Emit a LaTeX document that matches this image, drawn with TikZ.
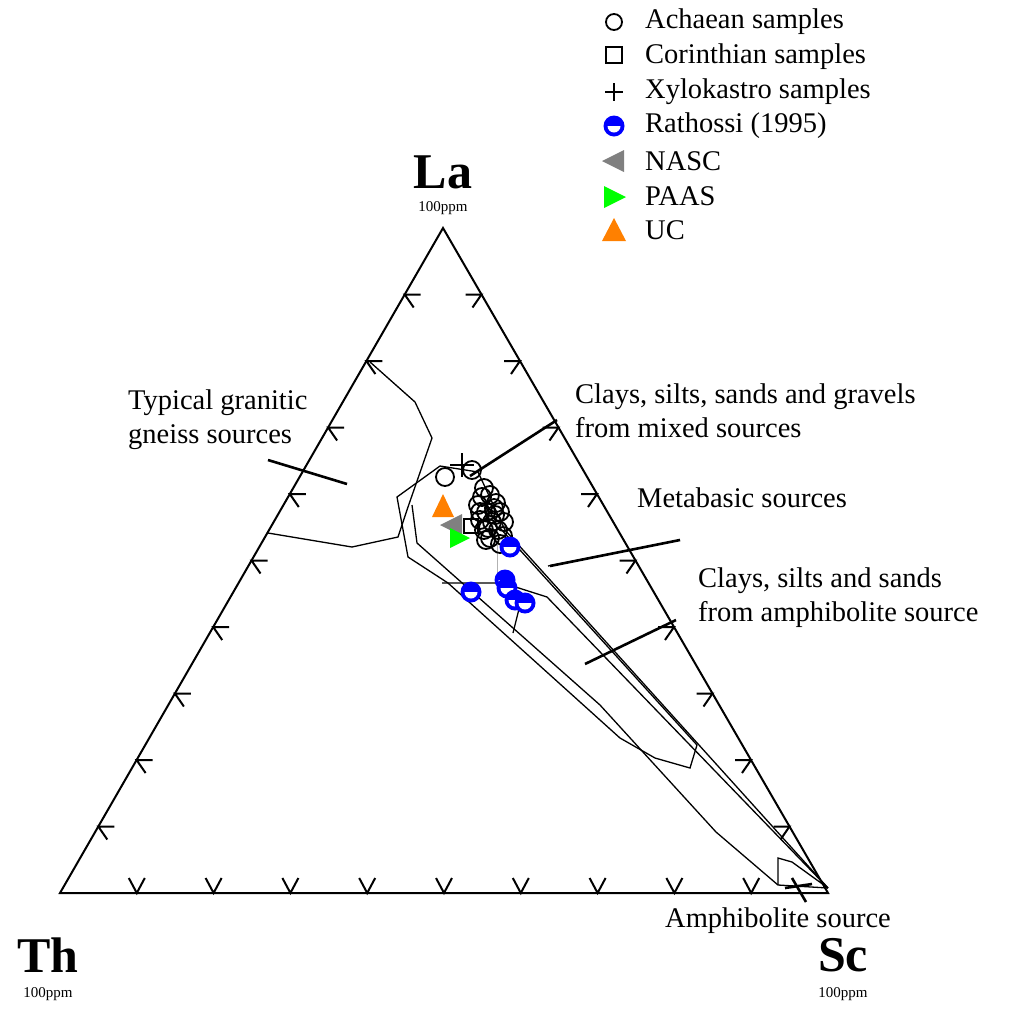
\documentclass[tikz,border=0pt]{standalone}
\usepackage{fontspec}
\setmainfont{Liberation Serif}
\usetikzlibrary{calc}
\tikzset{
  side/.style={line width=2pt},
  field/.style={line width=1.3pt},
  pointer/.style={line width=2.6pt},
  lbl/.style={font=\fontsize{28.5}{34}\selectfont, align=left, anchor=west, inner sep=0pt},
  apex/.style={font=\fontsize{50}{52}\selectfont\bfseries, inner sep=0pt},
  ppm/.style={font=\fontsize{15}{17}\selectfont, inner sep=0pt},
  ach/.style={line width=1.8pt},
}
\newcommand{\rathmark}[2]{%
  \fill[blue] (#1,#2) circle (10.5);
  \fill[white] (#1-6.5,#2) arc[start angle=180, end angle=0, radius=6.5] -- cycle;
}
\begin{document}
\begin{tikzpicture}[x=1pt, y=-1pt]
    \useasboundingbox (0,0) rectangle (1022,1010);
    % Triangle corners
    \coordinate (Th) at (60,893);
    \coordinate (Sc) at (828,893);
    \coordinate (La) at (443,228);
    \draw[side] (Th) -- (Sc) -- (La) -- cycle;

    % Tick marks
    \foreach \t in {1,...,9} {
        \draw[side] ($(Th)!\t/10!(La)$) +(16,0) -- +(0,0) -- +(9,13);
        \draw[side] ($(Sc)!\t/10!(La)$) +(-16,0) -- +(0,0) -- +(-9,13);
        \draw[side] ($(Th)!\t/10!(Sc)$) +(-8,-15) -- +(0,0) -- +(8,-15);
    }

    % Fields
    \draw[field] (268,533) -- (352,547) -- (398,537) -- (408,507) -- (432,438) -- (415,402) -- (370,362);
    \draw[field] (500,528) -- (697,745) -- (690,768) -- (655,758) -- (620,738) -- (600,720)
        -- (448,583) -- (408,557) -- (397,497) -- (440,466) -- (478,472);
    \draw[field] (412,505) -- (417,543) -- (600,705) -- (716,832) -- (778,885) -- (828,888);
    \draw[field] (478,472) -- (505,530) -- (828,888);
    \draw[field] (778,885) -- (778,858) -- (792,862) -- (828,888);
    \draw[field] (442,583) -- (503,583) -- (547,597) -- (828,888);
    \draw[field] (520,605) -- (513,633);
    \draw[field] (548,566) -- (680,540);
    \draw[gray!60, line width=0.8pt] (497,545) -- (497,575);

    % Pointers
    \draw[pointer] (470,476) -- (557,420);
    \draw[pointer] (268,460) -- (347,484);
    \draw[pointer] (550,566) -- (680,540);
    \draw[pointer] (585,664) -- (676,620);
    \draw[pointer] (792,878) -- (806,902);
    \draw[pointer] (785,888) -- (812,884);

    % Achaean samples
    \foreach \px/\py in {445/477, 472/470, 484/488, 490/495, 478/505, 496/503, 486/512, 500/512,
        480/520, 492/522, 504/522, 484/530, 498/530, 490/538, 503/536, 486/540, 495/515, 482/497,
        488/528, 494/508, 480/512, 500/544} {
        \draw[ach] (\px,\py) circle (9);
    }
    % Corinthian and Xylokastro samples
    \draw[ach] (464,519) rectangle (478,533);
    \draw[line width=2pt] (450,465) -- (474,465) (462,453) -- (462,477);
    % Rathossi (1995)
    \foreach \px/\py in {510/547, 505/580, 507/588, 471/592, 515/600, 525/603} {
        \rathmark{\px}{\py}
    }
    % NASC, PAAS, UC
    \fill[gray] (440,525) -- (462,514) -- (462,536) -- cycle;
    \fill[green] (470,538) -- (450,528) -- (450,548) -- cycle;
    \fill[orange] (443,494) -- (454,517) -- (432,517) -- cycle;

    % Legend
    \draw[ach] (614,22) circle (8);
    \draw[ach] (606,47) rectangle (622,63);
    \draw[line width=2pt] (605,92) -- (623,92) (614,83) -- (614,101);
    \rathmark{614}{126}
    \fill[gray] (602,161) -- (624,150) -- (624,172) -- cycle;
    \fill[green] (626,197) -- (604,186) -- (604,208) -- cycle;
    \fill[orange] (614,218) -- (626,241) -- (602,241) -- cycle;
    \node[lbl] (legA) at (645,22) {Achaean samples};
    \node[lbl] (legC) at (645,57) {Corinthian samples};
    \node[lbl] (legX) at (645,92) {Xylokastro samples};
    \node[lbl] (legR) at (645,126) {Rathossi (1995)};
    \node[lbl] (legN) at (645,161) {NASC};
    \node[lbl] (legP) at (645,196) {PAAS};
    \node[lbl] (legU) at (645,230) {UC};

    % Field labels
    \node[lbl] (granitic) at (128,420) {Typical granitic\\gneiss sources};
    \node[lbl] (mixed) at (575,411) {Clays, silts, sands and gravels\\from mixed sources};
    \node[lbl] (metabasic) at (637,498) {Metabasic sources};
    \node[lbl] (amphsed) at (698,598) {Clays, silts and sands\\from amphibolite source};
    \node[lbl] (amph) at (665,921) {Amphibolite source};

    % Apex labels
    \node[apex] (laL) at (443,172) {La};
    \node[ppm] (laP) at (443,208) {100ppm};
    \node[apex] (thL) at (48,955) {Th};
    \node[ppm] (thP) at (48,994) {100ppm};
    \node[apex] (scL) at (843,955) {Sc};
    \node[ppm] (scP) at (843,994) {100ppm};
\end{tikzpicture}
\end{document}
